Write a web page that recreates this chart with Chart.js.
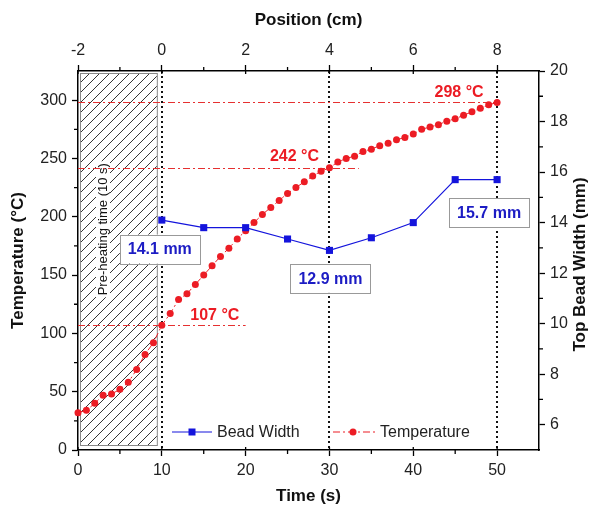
<!DOCTYPE html>
<html lang="en">
<head>
<meta charset="UTF-8">
<title>Temperature and Bead Width vs Time</title>
<script src="https://cdn.jsdelivr.net/npm/chart.js"></script>
<style>
  html, body { margin: 0; padding: 0; background: #fff; }
  .wrap { width: 596px; height: 511px; }
</style>
</head>
<body>
<div class="wrap"><canvas id="chart" width="596" height="511"></canvas></div>
<script>
// temperature, sampled every second
const tempTimes = [0, 1, 2, 3, 4, 5, 6, 7, 8, 9, 10,
                   11, 12, 13, 14, 15, 16, 17, 18, 19, 20,
                   21, 22, 23, 24, 25, 26, 27, 28, 29, 30,
                   31, 32, 33, 34, 35, 36, 37, 38, 39, 40,
                   41, 42, 43, 44, 45, 46, 47, 48, 49, 50];
const tempValues = [32, 34, 40, 47, 48, 52, 58, 69, 82, 92, 107,
                    117, 129, 134, 142, 150, 158, 166, 173, 181, 188,
                    195, 202, 208, 214, 220, 225, 230, 235, 239, 242,
                    247, 250, 252, 256, 258, 261, 263, 266, 268, 271,
                    275, 277, 279, 282, 284, 287, 290, 293, 296, 298];

// top bead width, measured every 5 s after pre-heating
const beadTimes = [10, 15, 20, 25, 30, 35, 40, 45, 50];
const beadWidths = [14.1, 13.8, 13.8, 13.35, 12.9, 13.4, 14.0, 15.7, 15.7];

// axis ticks
const timeTicks = [0, 10, 20, 30, 40, 50];
const timeMinor = [5, 15, 25, 35, 45];
const positionTicks = [-2, 0, 2, 4, 6, 8];
const positionMinor = [-1, 1, 3, 5, 7];
const tempTicks = [0, 50, 100, 150, 200, 250, 300];
const tempMinor = [25, 75, 125, 175, 225, 275];
const widthTicks = [6, 8, 10, 12, 14, 16, 18, 20];
const widthMinor = [7, 9, 11, 13, 15, 17, 19];

// times that get a marker line and value labels
const markedTimes = [10, 30, 50];
const preheatEnd = 10;

const RED = '#ec1c24';
const BLUE = '#1414dc';
const FONT = "'Liberation Sans', Arial, sans-serif";

Chart.defaults.font.family = FONT;
Chart.defaults.color = '#222';

const setTicks = list => s => { s.ticks = list.map(v => ({ value: v })); };

function axis(pos, min, max, ticks, size, extra) {
  const horizontal = pos === 'top' || pos === 'bottom';
  return Object.assign({
    type: 'linear',
    position: pos,
    min: min,
    max: max,
    afterBuildTicks: setTicks(ticks),
    afterFit: s => { if (horizontal) s.height = size; else s.width = size; },
    grid: { drawOnChartArea: false, drawTicks: true, tickLength: 6, tickColor: '#000', tickWidth: 1.3 },
    border: { display: true, color: '#000', width: 1.5 },
    ticks: { color: '#222', font: { size: 16 }, padding: 5, maxRotation: 0, autoSkip: false }
  }, extra);
}

function valueAt(times, values, t) {
  return values[times.indexOf(t)];
}

const decor = {
  id: 'decor',
  beforeDatasetsDraw(chart) {
    const { ctx, chartArea: a, scales: { x, y } } = chart;

    // hatched pre-heating band
    const x0 = x.getPixelForValue(0) + 2;
    const x1 = x.getPixelForValue(preheatEnd) - 5;
    const y0 = a.top + 2;
    const y1 = a.bottom - 5;
    const h = y1 - y0;
    ctx.save();
    ctx.beginPath();
    ctx.rect(x0, y0, x1 - x0, h);
    ctx.clip();
    ctx.strokeStyle = '#333';
    ctx.lineWidth = 1;
    ctx.beginPath();
    for (let k = x0 - h; k < x1 + 10; k += 10) {
      ctx.moveTo(k, y1);
      ctx.lineTo(k + h, y0);
    }
    ctx.stroke();
    ctx.restore();
    ctx.save();
    ctx.strokeStyle = '#888';
    ctx.lineWidth = 1;
    ctx.strokeRect(x0 + 0.5, y0 + 0.5, x1 - x0, h);

    // band caption on a white strip
    const cx = x0 + 23, cy = y0 + h * 0.42;
    ctx.fillStyle = '#fff';
    ctx.fillRect(cx - 7, cy - 68, 14, 136);
    ctx.translate(cx, cy);
    ctx.rotate(-Math.PI / 2);
    ctx.fillStyle = '#111';
    ctx.font = '13px ' + FONT;
    ctx.textAlign = 'center';
    ctx.textBaseline = 'middle';
    ctx.fillText('Pre-heating time (10 s)', 0, 0);
    ctx.restore();

    // dotted verticals at the marked times
    ctx.save();
    ctx.strokeStyle = '#111';
    ctx.lineWidth = 2;
    ctx.setLineDash([2, 3]);
    markedTimes.forEach(t => {
      const px = Math.round(x.getPixelForValue(t));
      ctx.beginPath();
      ctx.moveTo(px, a.top);
      ctx.lineTo(px, a.bottom);
      ctx.stroke();
    });
    ctx.restore();

    // dash-dot temperature levels
    const ends = [20, 33.5, 50];
    ctx.save();
    ctx.strokeStyle = '#e63030';
    ctx.lineWidth = 1.2;
    ctx.setLineDash([7, 3, 2, 3]);
    markedTimes.forEach((t, i) => {
      const py = Math.round(y.getPixelForValue(valueAt(tempTimes, tempValues, t))) + 0.5;
      ctx.beginPath();
      ctx.moveTo(a.left, py);
      ctx.lineTo(x.getPixelForValue(ends[i]), py);
      ctx.stroke();
    });
    ctx.restore();
  },

  afterDatasetsDraw(chart) {
    const { ctx, chartArea: a, scales: { x, y, x2, y2 } } = chart;
    ctx.save();
    ctx.textAlign = 'center';
    ctx.textBaseline = 'middle';

    // boxed bead width labels
    const boxOff = [[-2, 29], [1, 28], [-8, 33]];
    markedTimes.forEach((t, i) => {
      const v = valueAt(beadTimes, beadWidths, t);
      const px = x.getPixelForValue(t) + boxOff[i][0];
      const py = y2.getPixelForValue(v) + boxOff[i][1];
      ctx.fillStyle = '#fff';
      ctx.fillRect(px - 40, py - 14.5, 80, 29);
      ctx.strokeStyle = '#999';
      ctx.lineWidth = 1;
      ctx.strokeRect(Math.round(px - 40) + 0.5, Math.round(py - 14.5) + 0.5, 80, 29);
      ctx.fillStyle = '#1c1cc4';
      ctx.font = 'bold 16px ' + FONT;
      ctx.fillText(v.toFixed(1) + ' mm', px, py + 1);
    });

    // temperature labels
    const tempOff = [[53, -10], [-35, -11], [-38, -10]];
    ctx.fillStyle = RED;
    ctx.font = 'bold 16px ' + FONT;
    markedTimes.forEach((t, i) => {
      const v = valueAt(tempTimes, tempValues, t);
      ctx.fillText(v + ' °C', x.getPixelForValue(t) + tempOff[i][0], y.getPixelForValue(v) + tempOff[i][1]);
    });

    // legend
    const ly = a.bottom - 18;
    ctx.strokeStyle = BLUE;
    ctx.lineWidth = 1.2;
    ctx.beginPath();
    ctx.moveTo(a.left + 94, ly);
    ctx.lineTo(a.left + 134, ly);
    ctx.stroke();
    ctx.fillStyle = BLUE;
    ctx.fillRect(a.left + 110.5, ly - 3.5, 7, 7);
    ctx.setLineDash([7, 3, 2, 3]);
    ctx.strokeStyle = RED;
    ctx.beginPath();
    ctx.moveTo(a.left + 255, ly);
    ctx.lineTo(a.left + 297, ly);
    ctx.stroke();
    ctx.setLineDash([]);
    ctx.fillStyle = RED;
    ctx.beginPath();
    ctx.arc(a.left + 275, ly, 3.5, 0, Math.PI * 2);
    ctx.fill();
    ctx.fillStyle = '#222';
    ctx.font = '16px ' + FONT;
    ctx.textAlign = 'left';
    ctx.fillText('Bead Width', a.left + 139, ly + 1);
    ctx.fillText('Temperature', a.left + 302, ly + 1);

    // minor ticks outside, and the inner half of major ticks
    ctx.strokeStyle = '#000';
    ctx.lineWidth = 1.3;
    ctx.beginPath();
    timeMinor.forEach(v => { const p = x.getPixelForValue(v); ctx.moveTo(p, a.bottom); ctx.lineTo(p, a.bottom + 4); });
    positionMinor.forEach(v => { const p = x2.getPixelForValue(v); ctx.moveTo(p, a.top); ctx.lineTo(p, a.top - 4); });
    tempMinor.forEach(v => { const p = y.getPixelForValue(v); ctx.moveTo(a.left, p); ctx.lineTo(a.left - 4, p); });
    widthMinor.forEach(v => { const p = y2.getPixelForValue(v); ctx.moveTo(a.right, p); ctx.lineTo(a.right + 4, p); });
    timeTicks.forEach(v => { const p = x.getPixelForValue(v); ctx.moveTo(p, a.bottom); ctx.lineTo(p, a.bottom - 3); });
    positionTicks.forEach(v => { const p = x2.getPixelForValue(v); ctx.moveTo(p, a.top); ctx.lineTo(p, a.top + 3); });
    ctx.stroke();

    // right axis title reads bottom to top like the left one
    ctx.translate(580, (a.top + a.bottom) / 2 + 4);
    ctx.rotate(-Math.PI / 2);
    ctx.textAlign = 'center';
    ctx.fillStyle = '#111';
    ctx.font = 'bold 17px ' + FONT;
    ctx.fillText('Top Bead Width (mm)', 0, 0);
    ctx.restore();
  }
};

new Chart(document.getElementById('chart'), {
  type: 'line',
  data: {
    datasets: [
      {
        label: 'Bead Width',
        data: beadTimes.map((t, i) => ({ x: t, y: beadWidths[i] })),
        xAxisID: 'x',
        yAxisID: 'y2',
        borderColor: BLUE,
        borderWidth: 1.2,
        pointStyle: 'rect',
        pointRadius: 5,
        pointBackgroundColor: BLUE,
        pointBorderWidth: 0,
        tension: 0,
        clip: false
      },
      {
        label: 'Temperature',
        data: tempTimes.map((t, i) => ({ x: t, y: tempValues[i] })),
        xAxisID: 'x',
        yAxisID: 'y',
        borderColor: RED,
        borderWidth: 1,
        borderDash: [6, 3, 2, 3],
        pointRadius: 3.5,
        pointBackgroundColor: RED,
        pointBorderWidth: 0,
        tension: 0,
        clip: false
      }
    ]
  },
  options: {
    responsive: false,
    animation: false,
    layout: { padding: 0 },
    plugins: { legend: { display: false }, tooltip: { enabled: false } },
    scales: {
      x: axis('bottom', 0, 55, timeTicks, 61, {
        title: { display: true, text: 'Time (s)', color: '#111', font: { size: 17, weight: 'bold' }, padding: { bottom: 4 } }
      }),
      x2: axis('top', -2, 9, positionTicks, 71, {
        title: { display: true, text: 'Position (cm)', color: '#111', font: { size: 17, weight: 'bold' }, padding: { top: 10 } }
      }),
      y: axis('left', 0, 325, tempTicks, 78, {
        title: { display: true, text: 'Temperature (°C)', color: '#111', font: { size: 17, weight: 'bold' }, padding: { top: 8 } }
      }),
      y2: axis('right', 5, 20, widthTicks, 57, {})
    }
  },
  plugins: [decor]
});
</script>
</body>
</html>
